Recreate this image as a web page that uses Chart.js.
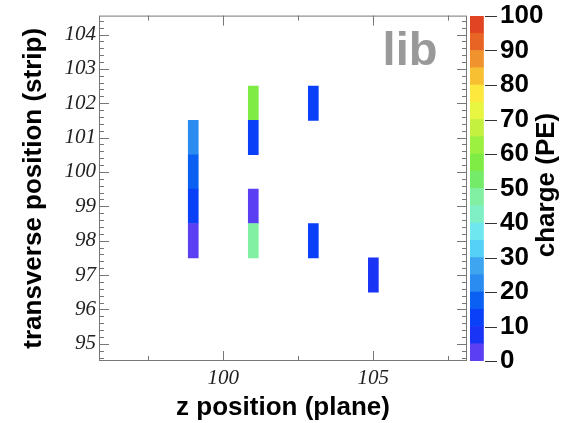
<!DOCTYPE html>
<html>
<head>
<meta charset="utf-8">
<script src="https://cdn.jsdelivr.net/npm/chart.js@4.4.0/dist/chart.umd.min.js"></script>
<style>
  html, body { margin: 0; padding: 0; background: #fff; }
  #wrap { position: relative; width: 575px; height: 423px; overflow: hidden; }
  #main { position: absolute; left: 0; top: 0; }
  #scale { position: absolute; left: 470px; top: 0; }
</style>
</head>
<body>
<div id="wrap">
  <canvas id="main" width="468" height="423"></canvas>
  <canvas id="scale" width="105" height="423"></canvas>
</div>
<script>
// hits: plane (z), strip (transverse) and charge in PE
const planes  = [99, 99, 99, 99, 101, 101, 101, 101, 103, 103, 105];
const strips  = [101, 100, 99, 98, 102, 101, 99, 98, 102, 98, 97];
const charges = [24, 17, 12, 3, 58, 12, 3, 46, 12, 12, 8];

const xTickLabels = [100, 105];
const yTickLabels = [95, 96, 97, 98, 99, 100, 101, 102, 103, 104];
const chargeEdges = [0, 5, 10, 15, 20, 25, 30, 35, 40, 45, 50, 55, 60, 65, 70, 75, 80, 85, 90, 95, 100];
const chargeTickLabels = [0, 10, 20, 30, 40, 50, 60, 70, 80, 90, 100];

// palette, one colour per 5 PE band, bottom to top
const paletteColors = [
  '#5a40f2', '#1a34f5', '#0a40f7', '#0a60f3', '#2a8cf0',
  '#3ea6f1', '#55d0f7', '#6ee8ee', '#7ff0c6', '#82f0a2',
  '#74ec6a', '#7eec44', '#9cf040', '#c4f040', '#e8f642',
  '#fde83e', '#f7bf32', '#f0922e', '#e86424', '#e04422'
];

function colorFor(q) {
  let i = chargeEdges.findIndex((e, k) => q >= e && q < chargeEdges[k + 1]);
  if (i < 0) i = paletteColors.length - 1;
  return paletteColors[i];
}

const sans = "'Liberation Sans', Arial, sans-serif";
const serif = "'Liberation Serif', 'Times New Roman', serif";

// ROOT style frame with inward ticks on all four sides
const frameTicks = {
  id: 'frameTicks',
  afterDatasetsDraw(chart) {
    const { ctx, chartArea: a, scales: { x, y } } = chart;
    ctx.save();
    ctx.strokeStyle = '#777';
    ctx.lineWidth = 1;
    ctx.strokeRect(a.left + 0.5, a.top + 0.5, a.right - a.left - 1, a.bottom - a.top - 1);
    ctx.beginPath();
    for (let i = 0; i <= 50; i++) {
      const v = 94.6 + i * 0.2;
      if (v > y.max) break;
      const major = Math.abs(v - Math.round(v)) < 1e-6;
      const len = major ? 10 : 5;
      const py = Math.round(y.getPixelForValue(v)) + 0.5;
      ctx.moveTo(a.left, py); ctx.lineTo(a.left + len, py);
      ctx.moveTo(a.right, py); ctx.lineTo(a.right - len, py);
    }
    for (let i = 0; i < 5; i++) {
      const v = 97.5 + i * 2.5;
      const len = xTickLabels.includes(v) ? 10 : 5;
      const px = Math.round(x.getPixelForValue(v)) + 0.5;
      ctx.moveTo(px, a.bottom); ctx.lineTo(px, a.bottom - len);
      ctx.moveTo(px, a.top); ctx.lineTo(px, a.top + len);
    }
    ctx.stroke();
    ctx.font = 'bold 47px ' + sans;
    ctx.fillStyle = '#999';
    ctx.textAlign = 'center';
    ctx.fillText('lib', 410, 65);
    ctx.restore();
  }
};

new Chart(document.getElementById('main'), {
  type: 'bar',
  data: {
    datasets: [{
      data: planes.map((p, i) => ({ x: p, y: [strips[i] - 0.5, strips[i] + 0.5] })),
      backgroundColor: charges.map(colorFor),
      borderWidth: 0,
      barThickness: 10
    }]
  },
  options: {
    responsive: false,
    animation: false,
    layout: { padding: { top: 14, right: 1, left: 0, bottom: 0 } },
    plugins: { legend: { display: false }, tooltip: { enabled: false } },
    scales: {
      x: {
        type: 'linear',
        offset: false,
        min: 95.86,
        max: 108.12,
        grid: { display: false, drawTicks: false },
        border: { display: false },
        afterBuildTicks: s => { s.ticks = xTickLabels.map(v => ({ value: v })); },
        afterFit: s => { s.height = 62; },
        ticks: {
          padding: 5, maxRotation: 0, color: '#222',
          font: { family: serif, style: 'italic', size: 21 }
        },
        title: {
          display: true, text: 'z position (plane)', color: '#000', padding: 0,
          font: { family: sans, weight: 'bold', size: 26 }
        }
      },
      y: {
        type: 'linear',
        min: 94.5,
        max: 104.55,
        grid: { display: false, drawTicks: false },
        border: { display: false },
        afterBuildTicks: s => { s.ticks = yTickLabels.map(v => ({ value: v })); },
        afterFit: s => { s.width = 99; },
        ticks: {
          padding: 3, color: '#222',
          font: { family: serif, style: 'italic', size: 21 }
        },
        title: {
          display: true, text: 'transverse position (strip)', color: '#000',
          padding: { top: 18, bottom: 0 },
          font: { family: sans, weight: 'bold', size: 26 }
        }
      }
    }
  },
  plugins: [frameTicks]
});

// colour scale: inner major ticks and the bottom-to-top title
const scaleDeco = {
  id: 'scaleDeco',
  afterDraw(chart) {
    const { ctx, chartArea: a, scales: { y } } = chart;
    ctx.save();
    ctx.strokeStyle = '#333';
    ctx.lineWidth = 1;
    ctx.beginPath();
    chargeTickLabels.forEach(v => {
      const py = Math.round(y.getPixelForValue(v)) + 0.5;
      ctx.moveTo(a.right - 12, py); ctx.lineTo(a.right, py);
    });
    ctx.stroke();
    ctx.translate(84, 185);
    ctx.rotate(-Math.PI / 2);
    ctx.font = 'bold 26px ' + sans;
    ctx.fillStyle = '#000';
    ctx.textAlign = 'center';
    ctx.textBaseline = 'alphabetic';
    ctx.fillText('charge (PE)', 0, 0);
    ctx.restore();
  }
};

new Chart(document.getElementById('scale'), {
  type: 'bar',
  data: {
    labels: ['charge'],
    datasets: paletteColors.map((c, i) => ({
      data: [chargeEdges[i + 1] - chargeEdges[i]],
      backgroundColor: c,
      borderWidth: 0,
      barPercentage: 1,
      categoryPercentage: 1
    }))
  },
  options: {
    responsive: false,
    animation: false,
    layout: { padding: { top: 14, bottom: 62, left: 0, right: 0 } },
    plugins: { legend: { display: false }, tooltip: { enabled: false } },
    scales: {
      x: { stacked: true, display: false, offset: false },
      y: {
        stacked: true,
        position: 'right',
        min: 0,
        max: 100,
        grid: { display: false, drawTicks: false },
        border: { display: false },
        afterBuildTicks: s => { s.ticks = chargeTickLabels.map(v => ({ value: v })); },
        afterFit: s => { s.width = 78; },
        ticks: {
          padding: 3, color: '#000',
          font: { family: sans, weight: 'bold', size: 26, lineHeight: 1 }
        }
      }
    }
  },
  plugins: [scaleDeco]
});
</script>
</body>
</html>
